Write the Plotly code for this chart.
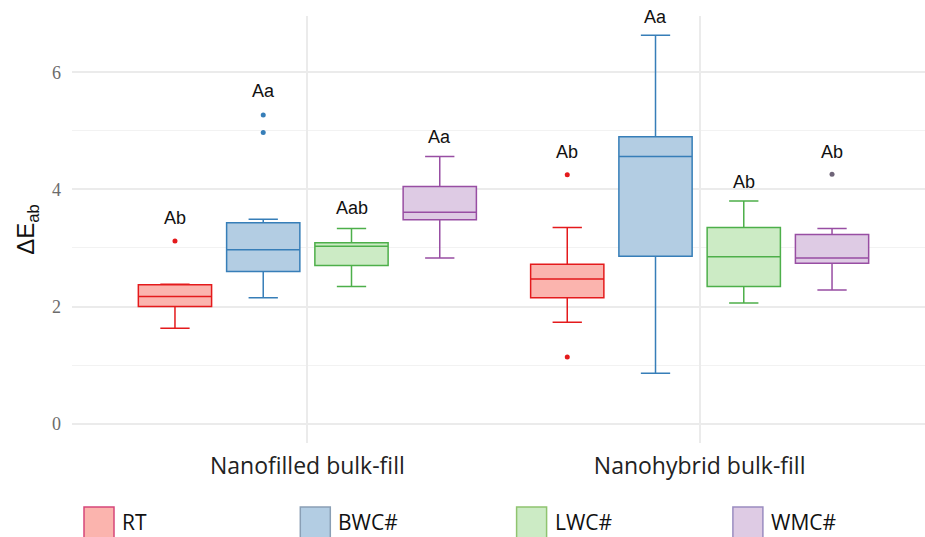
import plotly.graph_objects as go

categories = ["Nanofilled bulk-fill", "Nanohybrid bulk-fill"]
groups = ["RT", "BWC#", "LWC#", "WMC#"]

# precomputed box statistics per group: [nanofilled, nanohybrid]
q1 = {"RT": [2.00, 2.15], "BWC#": [2.60, 2.86], "LWC#": [2.70, 2.34], "WMC#": [3.48, 2.74]}
median = {"RT": [2.17, 2.47], "BWC#": [2.97, 4.56], "LWC#": [3.03, 2.85], "WMC#": [3.61, 2.83]}
q3 = {"RT": [2.37, 2.72], "BWC#": [3.43, 4.90], "LWC#": [3.09, 3.35], "WMC#": [4.05, 3.23]}
lowerfence = {"RT": [1.63, 1.73], "BWC#": [2.15, 0.86], "LWC#": [2.34, 2.06], "WMC#": [2.83, 2.28]}
upperfence = {"RT": [2.38, 3.35], "BWC#": [3.49, 6.63], "LWC#": [3.33, 3.80], "WMC#": [4.56, 3.33]}
outliers = {"RT": [[3.12], [4.25, 1.14]], "BWC#": [[5.27, 4.97], []], "LWC#": [[], []], "WMC#": [[], [4.26]]}

# significance letters and their heights
letters = {"RT": ["Ab", "Ab"], "BWC#": ["Aa", "Aa"], "LWC#": ["Aab", "Ab"], "WMC#": ["Aa", "Ab"]}
letter_y = {"RT": [3.51, 4.64], "BWC#": [5.68, 6.94], "LWC#": [3.68, 4.13], "WMC#": [4.90, 4.64]}

line_colors = {"RT": "#E41A1C", "BWC#": "#377EB8", "LWC#": "#4DAF4A", "WMC#": "#984EA3"}
fill_colors = {"RT": "#FBB4AE", "BWC#": "#B3CDE3", "LWC#": "#CCEBC5", "WMC#": "#DECBE4"}
point_colors = {"RT": "#E41A1C", "BWC#": "#377EB8", "LWC#": "#4DAF4A", "WMC#": "#6f6478"}
legend_border = {"RT": "#D6457A", "BWC#": "#8A9FB5", "LWC#": "#8FC46F", "WMC#": "#9A8CC0"}

BOXGAP = 0.10
GROUPGAP = 0.17
W, H = 925, 537
ML, MR, MT, MB = 72, 0, 16, 94
PW, PH = W - ML - MR, H - MT - MB

fig = go.Figure()
for g in groups:
    rows = [r if len(r) else [None] for r in outliers[g]]
    fig.add_trace(go.Box(
        name=g, x=categories, y=rows, orientation="v",
        q1=q1[g], median=median[g], q3=q3[g],
        lowerfence=lowerfence[g], upperfence=upperfence[g],
        boxpoints="outliers", pointpos=0, jitter=0,
        whiskerwidth=0.4,
        fillcolor=fill_colors[g],
        line=dict(color=line_colors[g], width=1.5),
        marker=dict(color=point_colors[g], size=5),
        hoverinfo="skip", showlegend=False,
    ))

# letters above boxes, placed with the same dodge as the boxes
n = len(groups)
step = (1 - BOXGAP) / n
for k, g in enumerate(groups):
    for ci, cat in enumerate(categories):
        fig.add_annotation(
            x=ci + (k - (n - 1) / 2) * step, y=letter_y[g][ci],
            text=letters[g][ci], showarrow=False,
            font=dict(family="Liberation Sans, Arial, sans-serif", size=18, color="#111111"),
        )

# manual legend (large swatches), in pixel layout converted to paper coords
LEG_X0, LEG_STEP, LEG_TOP, SW = 84, 216.3, 507, 30
def px(xp):
    return (xp - ML) / PW
def py(yp):
    return (H - MB - yp) / PH
for k, g in enumerate(groups):
    x0 = LEG_X0 + k * LEG_STEP
    fig.add_shape(type="rect", xref="paper", yref="paper",
                  x0=px(x0), x1=px(x0 + SW), y0=py(LEG_TOP), y1=py(LEG_TOP + SW + 2),
                  fillcolor=fill_colors[g], line=dict(color=legend_border[g], width=1.5))
    fig.add_annotation(xref="paper", yref="paper", x=px(x0 + SW + 6), y=py(522),
                       xanchor="left", yanchor="middle", showarrow=False, text=g,
                       font=dict(family="Open Sans, Noto Sans, sans-serif", size=21, color="#111111"))

fig.update_layout(
    width=W, height=H,
    margin=dict(l=ML, r=MR, t=MT, b=MB),
    paper_bgcolor="white", plot_bgcolor="white",
    boxmode="group", boxgap=BOXGAP, boxgroupgap=GROUPGAP,
    showlegend=False,
    xaxis=dict(type="category", range=[-0.6, 1.5745], automargin=False,
               showgrid=True, gridcolor="#ebebeb", gridwidth=1.5,
               showline=False, zeroline=False, ticks="",
               ticklabelstandoff=7,
               tickfont=dict(family="Open Sans, Noto Sans, sans-serif", size=23, color="#222222")),
    yaxis=dict(range=[-0.33, 6.96], tickvals=[0, 2, 4, 6], automargin=False,
               showgrid=True, gridcolor="#ebebeb", gridwidth=1.5,
               minor=dict(tickvals=[1, 3, 5], showgrid=True, gridcolor="#f2f2f2", gridwidth=1.2),
               zeroline=False, showline=False, ticks="",
               ticklabelstandoff=10,
               tickfont=dict(family="Liberation Serif, Times New Roman, serif", size=18, color="#6b6b6b"),
               title=dict(text="ΔE<sub>ab</sub>", standoff=10,
                          font=dict(family="Liberation Sans, Arial, sans-serif", size=24, color="#111111"))),
)

fig.write_html("out.html", config={"displayModeBar": False},
               post_script="document.body.style.margin='0';document.body.style.overflow='hidden';")
